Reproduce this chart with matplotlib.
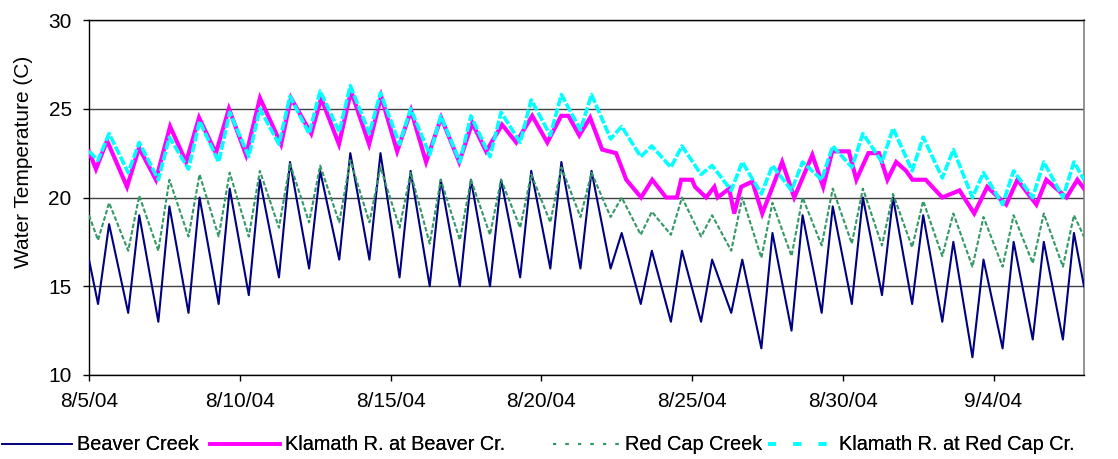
import numpy as np
import pandas as pd
import matplotlib
matplotlib.use('Agg')
import matplotlib.pyplot as plt
from matplotlib.lines import Line2D
from matplotlib.ticker import FuncFormatter, FixedLocator
import matplotlib.dates as mdates

plt.rcParams['font.family'] = ['Liberation Sans', 'DejaVu Sans']

# ---------------- data ----------------
start_date = '2004-08-05'
end_date = '2004-09-07'
min_hour = 7.2    # typical hour of the daily minimum
max_hour = 16.0   # typical hour of the daily maximum

labels = ['Beaver Creek', 'Klamath R. at Beaver Cr.', 'Red Cap Creek',
          'Klamath R. at Red Cap Cr.']

# Beaver Creek: daily minima / maxima (8/5 .. 9/6)
beaver_first, beaver_last = 16.5, 15.0
beaver_min = [14.0, 13.5, 13.0, 13.5, 14.0, 14.5, 15.5, 16.0, 16.5, 16.5, 15.5,
              15.0, 15.0, 15.0, 15.5, 16.0, 16.0, 16.0, 14.0, 13.0, 13.0, 13.5,
              11.5, 12.5, 13.5, 14.0, 14.5, 14.0, 13.0, 11.0, 11.5, 12.0, 12.0]
beaver_max = [18.5, 19.0, 19.5, 20.0, 20.5, 21.0, 22.0, 21.5, 22.5, 22.5, 21.5,
              21.0, 21.0, 21.0, 21.5, 22.0, 21.5, 18.0, 17.0, 17.0, 16.5, 16.5,
              18.0, 19.0, 19.5, 20.0, 20.0, 19.0, 17.5, 16.5, 17.5, 17.5, 18.0]

# Red Cap Creek
redcap_first, redcap_last = 19.0, 17.8
redcap_min = [17.6, 17.0, 17.0, 17.8, 17.8, 17.8, 18.3, 18.6, 18.6, 18.6, 18.3,
              17.4, 17.6, 17.9, 18.3, 18.6, 18.9, 18.9, 17.9, 17.9, 17.8, 17.0,
              16.6, 16.7, 17.3, 17.4, 17.3, 17.2, 16.7, 16.1, 16.1, 16.3, 16.1]
redcap_max = [19.7, 20.1, 21.0, 21.3, 21.4, 21.5, 21.9, 21.8, 22.1, 21.7, 21.4,
              21.0, 21.0, 21.0, 21.3, 21.7, 21.4, 20.0, 19.2, 20.0, 19.0, 20.0,
              19.7, 20.0, 20.5, 20.5, 20.2, 19.8, 19.1, 18.9, 19.0, 19.1, 19.0]

# Klamath R. at Red Cap Cr.
klrc_first, klrc_last = 22.6, 21.0
klrc_min = [22.1, 21.4, 21.0, 21.6, 22.0, 22.3, 23.0, 23.6, 23.7, 23.6, 23.0,
            22.4, 22.0, 22.3, 23.1, 23.5, 23.8, 23.3, 22.3, 21.7, 21.3, 20.4,
            20.2, 20.4, 21.0, 21.7, 22.0, 21.5, 21.1, 20.0, 19.6, 20.0, 20.0]
klrc_max = [23.6, 23.1, 23.4, 24.3, 24.8, 25.0, 25.7, 26.0, 26.3, 25.9, 25.0,
            24.6, 24.6, 24.8, 25.5, 25.8, 25.8, 24.0, 22.9, 22.9, 21.8, 22.0,
            21.8, 22.0, 22.9, 23.6, 23.9, 23.4, 22.7, 21.4, 21.5, 22.0, 22.0]

# Klamath R. at Beaver Cr.: turning points (days after 8/5 00:00, deg C)
klbc_days = [0.0, 0.23, 0.60, 1.26, 1.66, 2.22, 2.69, 3.22, 3.65, 4.21, 4.64,
             5.21, 5.67, 6.37, 6.70, 7.37, 7.70, 8.29, 8.69, 9.29, 9.69, 10.22,
             10.68, 11.18, 11.68, 12.28, 12.71, 13.17, 13.70, 14.17, 14.70,
             15.20, 15.66, 15.90, 16.26, 16.62, 17.02, 17.48, 17.82, 18.31,
             18.68, 19.14, 19.50, 19.64, 20.00, 20.10, 20.47, 20.74, 20.85,
             21.23, 21.40, 21.63, 22.00, 22.33, 22.99, 23.39, 23.99, 24.35,
             24.65, 25.20, 25.45, 25.85, 26.20, 26.48, 26.77, 27.10, 27.31,
             27.75, 28.30, 28.87, 29.36, 29.79, 30.42, 30.79, 31.42, 31.75,
             32.42, 32.78, 33.0]
klbc_vals = [22.6, 21.6, 23.2, 20.6, 22.8, 21.0, 24.0, 22.0, 24.5, 22.5, 25.0,
             22.4, 25.6, 23.0, 25.6, 23.6, 25.6, 23.0, 26.0, 23.0, 25.7, 22.6,
             24.9, 22.0, 24.5, 22.0, 24.2, 22.6, 24.1, 23.1, 24.6,
             23.1, 24.6, 24.6, 23.5, 24.5, 22.7, 22.5, 21.0, 20.0,
             21.0, 20.0, 20.0, 21.0, 21.0, 20.6, 20.0, 20.6, 20.0,
             20.5, 19.1, 20.6, 20.9, 19.1, 22.0, 20.0, 22.4, 20.6,
             22.6, 22.6, 21.0, 22.5, 22.5, 21.0, 22.0, 21.5, 21.0,
             21.0, 20.0, 20.4, 19.1, 20.6, 19.6, 21.0, 19.6, 21.0,
             20.0, 21.0, 20.5]

tick_dates = pd.date_range(start_date, end_date, freq='5D')
y_ticks = [10, 15, 20, 25, 30]


def diurnal(first, mins, maxs, last):
    t0 = pd.Timestamp(start_date)
    days = pd.date_range(start_date, periods=len(mins), freq='D')
    t = [t0]
    v = [first]
    for d, lo, hi in zip(days, mins, maxs):
        t += [d + pd.Timedelta(hours=min_hour), d + pd.Timedelta(hours=max_hour)]
        v += [lo, hi]
    t.append(pd.Timestamp(end_date))
    v.append(last)
    return mdates.date2num(t), v


bt, bv = diurnal(beaver_first, beaver_min, beaver_max, beaver_last)
rt, rv = diurnal(redcap_first, redcap_min, redcap_max, redcap_last)
ct, cv = diurnal(klrc_first, klrc_min, klrc_max, klrc_last)
kt = mdates.date2num([pd.Timestamp(start_date) + pd.Timedelta(days=d) for d in klbc_days])

# ---------------- figure ----------------
W, H = 1118, 459
fig = plt.figure(figsize=(W / 100, H / 100), dpi=100)
ax = fig.add_axes([89 / W, 1 - 375 / H, (1084 - 89) / W, (375 - 20) / H])

c_beaver = '#000080'
c_klbc = '#FF00FF'
c_red = '#339966'
c_klrc = '#00FFFF'

ax.plot(bt, bv, color=c_beaver, lw=1.5, zorder=3)
ax.plot(kt, klbc_vals, color=c_klbc, lw=3.0, zorder=4, solid_joinstyle='miter')
ax.plot(rt, rv, color=c_red, lw=1.5, dashes=(2.2, 1.0), zorder=5)
ax.plot(ct, cv, color=c_klrc, lw=2.6, dashes=(2.5, 0.6), zorder=6)

ax.set_ylim(10, 30)
ax.set_xlim(mdates.date2num(pd.Timestamp(start_date)), mdates.date2num(pd.Timestamp(end_date)))
ax.yaxis.set_major_locator(FixedLocator(y_ticks))
ax.xaxis.set_major_locator(FixedLocator(mdates.date2num(tick_dates)))
ax.xaxis.set_major_formatter(FuncFormatter(
    lambda x, p: (lambda d: f"{d.month}/{d.day}/{d:%y}")(mdates.num2date(x))))

ax.grid(axis='y', color='#404040', lw=1.0, zorder=1)
ax.set_axisbelow(True)
ax.tick_params(axis='both', direction='out', length=4.5, width=1.0,
               labelsize=15, pad=8, colors='black')
for s in ['left', 'bottom', 'top']:
    ax.spines[s].set_color('black')
    ax.spines[s].set_linewidth(1.0)
ax.spines['right'].set_color('#808080')
ax.spines['right'].set_linewidth(1.2)

fig.text(24 / W, 1 - 162 / H, 'Water Temperature (C)', rotation=90,
         ha='center', va='center', fontsize=15)

handles = [
    Line2D([], [], color=c_beaver, lw=1.2),
    Line2D([], [], color=c_klbc, lw=2.6),
    Line2D([], [], color=c_red, lw=1.5, dashes=(1.5, 4.5)),
    Line2D([], [], color=c_klrc, lw=2.6, dashes=(2.2, 4.8)),
]
legend_x = [2, 210, 553, 768]       # left edge of each legend entry (px)
legend_len = [3.5, 3.5, 3.35, 3.25]  # handle length (font units)
for h, lab, x0, hl in zip(handles, labels, legend_x, legend_len):
    leg = fig.legend([h], [lab], loc='center left',
                     bbox_to_anchor=(x0 / W, 1 - 445 / H),
                     frameon=False, fontsize=14.3, handlelength=hl,
                     handletextpad=0.3, borderaxespad=0, borderpad=0)
    fig.add_artist(leg)

fig.savefig('out.png', dpi=100)
